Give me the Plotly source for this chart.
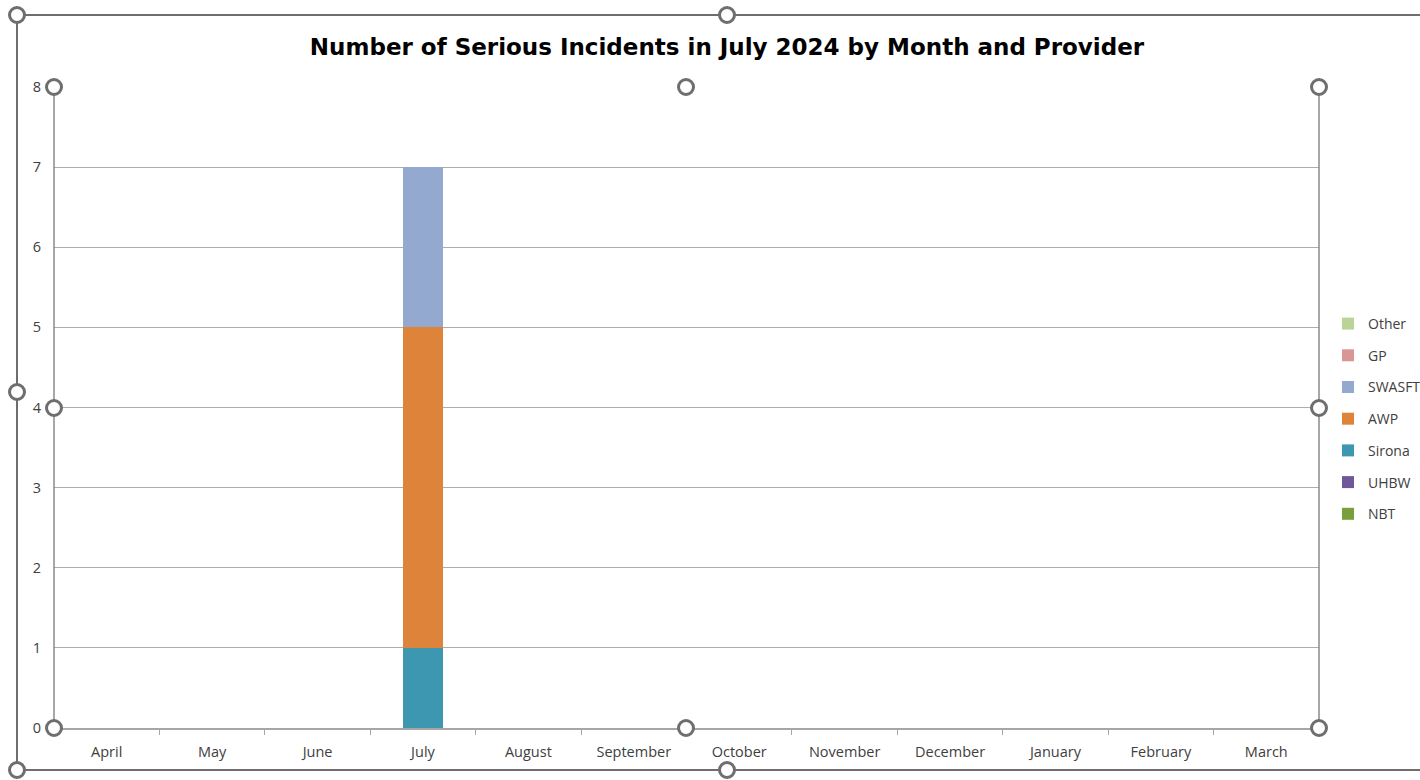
import plotly.graph_objects as go

months = ["April", "May", "June", "July", "August", "September", "October",
          "November", "December", "January", "February", "March"]
NBT = [0, 0, 0, 0, 0, 0, 0, 0, 0, 0, 0, 0]
UHBW = [0, 0, 0, 0, 0, 0, 0, 0, 0, 0, 0, 0]
Sirona = [0, 0, 0, 1, 0, 0, 0, 0, 0, 0, 0, 0]
AWP = [0, 0, 0, 4, 0, 0, 0, 0, 0, 0, 0, 0]
SWASFT = [0, 0, 0, 2, 0, 0, 0, 0, 0, 0, 0, 0]
GP = [0, 0, 0, 0, 0, 0, 0, 0, 0, 0, 0, 0]
Other = [0, 0, 0, 0, 0, 0, 0, 0, 0, 0, 0, 0]

series = [
    ("NBT", NBT, "#77A03C"),
    ("UHBW", UHBW, "#70579C"),
    ("Sirona", Sirona, "#3E97B0"),
    ("AWP", AWP, "#DE843A"),
    ("SWASFT", SWASFT, "#94A9CF"),
    ("GP", GP, "#D99694"),
    ("Other", Other, "#B9D496"),
]

W, H = 1420, 780
L, R, T, B = 54, 1319, 87, 728
FONT = "Open Sans"

fig = go.Figure()
n = len(series)
for i, (name, vals, col) in enumerate(series):
    fig.add_trace(go.Bar(x=months, y=vals, name=name, marker_color=col,
                         marker_line_width=0, legendgroup=name,
                         legendrank=(n - i) * 10))

def px_x(x):
    return (x - L) / (R - L)

def px_y(y):
    return 1 - (y - T) / (B - T)

shapes = []
grey = "#6E6E6E"
# outer chart-area selection frame
for (x0, y0, x1, y1) in [(17, 15, 1420, 15), (17, 15, 17, 770), (17, 770, 1420, 770)]:
    shapes.append(dict(type="line", xref="paper", yref="paper",
                       x0=px_x(x0), y0=px_y(y0), x1=px_x(x1), y1=px_y(y1),
                       line=dict(color=grey, width=2), layer="above"))
# plot-area frame sides
for (x0, y0, x1, y1) in [(L, T, L, B), (R, T, R, B)]:
    shapes.append(dict(type="line", xref="paper", yref="paper",
                       x0=px_x(x0), y0=px_y(y0), x1=px_x(x1), y1=px_y(y1),
                       line=dict(color="#8A8A8A", width=1.5), layer="above"))
handles = [(L, T), (686, T), (R, T), (L, 408), (R, 408), (L, B), (686, B), (R, B),
           (17, 15), (727, 15), (17, 392), (17, 770), (727, 770)]
r = 7.5
for (cx, cy) in handles:
    shapes.append(dict(type="circle", xref="paper", yref="paper",
                       x0=px_x(cx - r), x1=px_x(cx + r), y0=px_y(cy - r), y1=px_y(cy + r),
                       fillcolor="white", line=dict(color=grey, width=3), layer="above"))

fig.update_layout(
    width=W, height=H,
    margin=dict(l=L, r=W - R, t=T, b=H - B, autoexpand=False),
    barmode="stack", bargap=0.62,
    plot_bgcolor="white", paper_bgcolor="white",
    font=dict(family=FONT, size=13, color="#404040"),
    title=dict(text="<b>Number of Serious Incidents in July 2024 by Month and Provider</b>",
               x=px_x(727), xanchor="center", xref="paper", y=1 - 47 / H, yanchor="middle",
               font=dict(family="DejaVu Sans", size=23, color="#000000")),
    legend=dict(x=px_x(1328), xanchor="left", y=px_y(419), yanchor="middle",
                traceorder="grouped", tracegroupgap=10.5,
                font=dict(family=FONT, size=14, color="#404040"),
                itemwidth=30, bgcolor="rgba(0,0,0,0)"),
    shapes=shapes,
    showlegend=True,
)
fig.update_xaxes(showgrid=False, showline=True, linecolor="#A6A6A6", linewidth=1.5,
                 ticks="outside", tickson="boundaries", ticklen=5, tickcolor="#A6A6A6",
                 ticklabelstandoff=10,
                 tickfont=dict(size=14.5, color="#404040"), fixedrange=True)
fig.update_yaxes(range=[0, 8], dtick=1, showgrid=True, gridcolor="#ADADAD", gridwidth=1,
                 zeroline=False, showline=False, ticks="", ticklabelstandoff=12,
                 tickfont=dict(size=14.5, color="#404040"), fixedrange=True)

fig.write_html("out.html")
